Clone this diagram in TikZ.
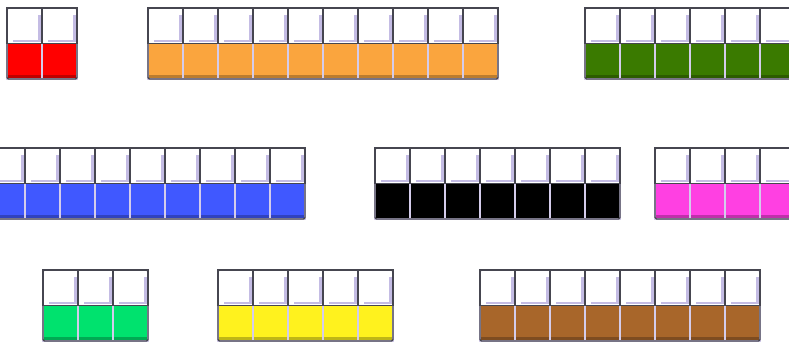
\documentclass[tikz,border=0pt]{standalone}
\usetikzlibrary{calc}
\definecolor{rodedge}{RGB}{70,70,80}
\definecolor{rodsep}{RGB}{212,204,235}
\definecolor{rodshadow}{RGB}{196,188,228}
\definecolor{rodred}{RGB}{255,0,0}
\definecolor{rodorange}{RGB}{250,165,62}
\definecolor{roddarkgreen}{RGB}{58,122,0}
\definecolor{rodblue}{RGB}{64,88,255}
\definecolor{rodblack}{RGB}{0,0,0}
\definecolor{rodpink}{RGB}{255,64,226}
\definecolor{rodlightgreen}{RGB}{0,226,110}
\definecolor{rodyellow}{RGB}{255,242,30}
\definecolor{rodbrown}{RGB}{168,102,42}
% #1 name, #2 left x, #3 top y, #4 number of cells, #5 colour
\newcommand{\rodbar}[5]{%
  \foreach \i in {1,...,#4}{%
    \node[botcell=#5] (#1-b\i) at ({#2+(\i-0.5)*35},{#3+53.25}) {};
  }
  \foreach \i in {1,...,#4}{%
    \node[topcell] (#1-t\i) at ({#2+(\i-0.5)*35},{#3+17.75}) {};
  }
  \draw[barframe] (#1-t1.north west) rectangle (#1-b#4.south east);
}
\begin{document}
\begin{tikzpicture}[x=0.03cm, y=-0.03cm,
    topcell/.style={draw=rodedge, fill=white, line width=0.9pt, inner sep=0pt, outer sep=0pt,
      minimum width=1.05cm, minimum height=1.065cm,
      path picture={
        \draw[rodshadow, line width=2pt]
          ([xshift=-2pt, yshift=-6pt]path picture bounding box.north east)
          -- ([xshift=-2pt, yshift=2.2pt]path picture bounding box.south east)
          -- ([xshift=5pt, yshift=2.2pt]path picture bounding box.south west);
      }},
    botcell/.style={draw=rodsep, fill=#1, line width=1.3pt, inner sep=0pt, outer sep=0pt,
      minimum width=1.05cm, minimum height=1.065cm,
      path picture={
        \fill[#1!75!black] ([yshift=3pt]path picture bounding box.south west)
          rectangle (path picture bounding box.south east);
      }},
    barframe/.style={draw=rodedge, line width=1.1pt, rounded corners=1.2pt}]
  \useasboundingbox (0,0) rectangle (789,343);
  % Row 1
  \rodbar{red}{7}{8}{2}{rodred}
  \rodbar{orange}{148}{8}{10}{rodorange}
  \rodbar{darkgreen}{585}{8}{6}{roddarkgreen}
  % Row 2
  \rodbar{blue}{-10}{148}{9}{rodblue}
  \rodbar{black}{375}{148}{7}{rodblack}
  \rodbar{pink}{655}{148}{4}{rodpink}
  % Row 3
  \rodbar{lightgreen}{43}{270}{3}{rodlightgreen}
  \rodbar{yellow}{218}{270}{5}{rodyellow}
  \rodbar{brown}{480}{270}{8}{rodbrown}
\end{tikzpicture}
\end{document}
